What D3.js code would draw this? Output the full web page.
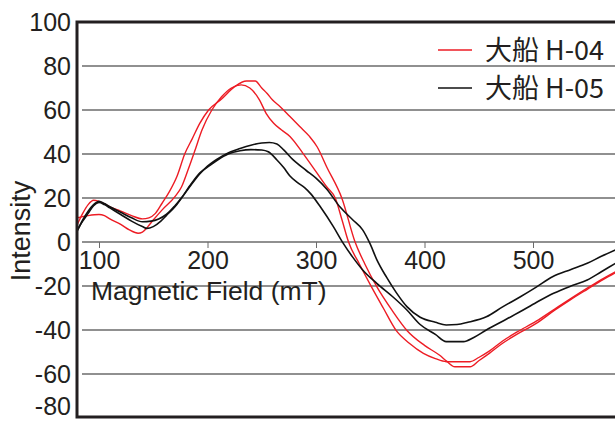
<!DOCTYPE html>
<html>
<head>
<meta charset="utf-8">
<script src="https://cdn.jsdelivr.net/npm/d3@7"></script>
<style>
  html, body { margin: 0; padding: 0; background: #fff; }
  svg { display: block; }
</style>
</head>
<body>
<svg id="chart" width="615" height="422"></svg>
<script>
// Y axis ticks and X axis ticks (mT)
const yTicks = [100, 80, 60, 40, 20, 0, -20, -40, -60, -80];
const xTicks = [100, 200, 300, 400, 500];

// 大船 H-04, first trace: [field (mT), intensity]
const h04TraceA = [
  [80, 8], [85, 13], [90, 17], [95, 19], [100, 18.5], [110, 16], [120, 14], [130, 12],
  [140, 10.5], [146, 11], [152, 13], [158, 17.5], [165, 23], [172, 30], [179, 40],
  [186, 47], [193, 54], [201, 60], [213, 65], [225, 70.6], [236, 73.2], [244, 73.2],
  [250, 70], [255, 67.5], [260, 64.5], [267, 61.5], [276, 57], [285, 52.5], [294, 48],
  [301, 43.3], [310, 34], [324, 19.7], [336, 0], [345, -10], [356, -20.3], [370, -31],
  [384, -40.3], [400, -47], [414, -51.5], [420, -54], [428, -56.7], [442, -56.7],
  [450, -54], [460, -50.5], [472, -46], [485, -42], [503, -37], [520, -31], [534, -26.4],
  [550, -21.5], [565, -17], [576, -14]
];
// 大船 H-04, second trace
const h04TraceB = [
  [80, 11], [90, 12], [100, 12.5], [105, 12], [110, 10.5], [120, 8], [128, 5.5], [136, 4],
  [140, 4.5], [145, 7], [150, 10], [158, 14.5], [170, 20.6], [176, 25], [182, 32.7],
  [188, 41], [195, 51], [204, 60], [213, 66], [222, 70], [231, 71.4], [239, 70],
  [248, 64.5], [254, 58.5], [261, 54], [268, 51], [276, 48], [288, 40.3], [300, 32],
  [310, 25], [318, 19.7], [324, 10], [330, 0], [340, -10], [351, -20.3], [362, -30],
  [374, -40.3], [386, -46], [399, -50.6], [410, -53], [420, -54.4], [442, -54.4],
  [450, -52.5], [460, -49.5], [472, -45], [485, -41], [503, -36], [520, -30.5],
  [534, -26], [550, -21], [565, -16.5], [576, -13.5]
];
// 大船 H-05, first trace
const h05TraceA = [
  [80, 5], [85, 10], [90, 14], [95, 17], [100, 18.5], [105, 17.5], [110, 16], [120, 13.5],
  [130, 11], [140, 9.2], [148, 9.5], [155, 10.5], [162, 12.5], [170, 16.5], [176, 20],
  [185, 26], [193, 31], [200, 34.5], [210, 38], [219, 40.5], [230, 42.5], [240, 44],
  [250, 45], [257, 45.2], [264, 44.5], [270, 42], [279, 37.3], [291, 32.5], [300, 29],
  [310, 24], [322, 16], [334, 10], [343, 5.5], [350, -1], [356, -8], [365, -16],
  [374, -23], [384, -29.5], [396, -34.2], [410, -36.5], [420, -37.7], [430, -37.5],
  [440, -36.5], [457, -34], [472, -29.5], [488, -25], [503, -20.5], [518, -15.8],
  [535, -12.5], [550, -9.7], [563, -6.5], [576, -3.6]
];
// 大船 H-05, second trace
const h05TraceB = [
  [80, 5.5], [85, 9.5], [90, 13], [95, 16.5], [100, 18], [105, 17], [110, 15.5],
  [120, 12.5], [130, 9.5], [140, 7], [144, 6.2], [150, 7], [157, 9.5], [162, 12],
  [170, 16], [176, 20], [185, 26.5], [193, 31.5], [200, 34], [210, 37.5], [219, 40],
  [230, 41.5], [240, 42], [250, 41.8], [256, 41], [264, 37.3], [270, 34], [276, 30],
  [283, 27], [290, 24.5], [295, 22], [304, 16], [316, 7], [325, -0.5], [334, -7],
  [343, -12.7], [356, -18.8], [371, -25], [384, -31], [396, -37.5], [410, -42],
  [420, -45.3], [436, -45.3], [445, -43.5], [457, -40], [472, -36], [488, -31.7],
  [503, -27.5], [519, -23.3], [535, -20], [550, -17.3], [563, -13.5], [576, -9.7]
];

const seriesNames = ["大船 H-04", "大船 H-05"];
const seriesColors = ["#ed1c24", "#111111"];

const svg = d3.select("#chart");
const W = 615, H = 422;
const plot = { left: 77, top: 22, bottom: 418 };

const x = d3.scaleLinear().domain([100, 500]).range([99, 533]);
const y = d3.scaleLinear().domain([-80, 100]).range([plot.bottom, plot.top]);

const axisFont = "'Liberation Sans', Arial, Helvetica, sans-serif";
// Plain hyphen for negative numbers
const numFormat = d => String(d);

// Horizontal grid lines
svg.append("g")
  .selectAll("line")
  .data(yTicks.filter(v => v < 100 && v > -80))
  .join("line")
  .attr("x1", 82).attr("x2", W)
  .attr("y1", d => y(d)).attr("y2", d => y(d))
  .attr("stroke", "#6b6b6b").attr("stroke-width", 1.5);

// X axis drawn along the zero line
const xAxis = d3.axisBottom(x).tickValues(xTicks).tickSize(6).tickPadding(4).tickFormat(numFormat);
const gx = svg.append("g").attr("transform", `translate(0,${y(0)})`).call(xAxis);
gx.select(".domain").remove();
gx.selectAll(".tick line").attr("stroke", "#6b6b6b").attr("stroke-width", 1);
gx.selectAll(".tick text")
  .attr("font-family", axisFont).attr("font-size", 25).attr("fill", "#231f20")
  .attr("dy", "0.71em").attr("y", 9);

// Y axis labels; the lowest one sits just above the window edge
const yAxis = d3.axisLeft(y).tickValues(yTicks).tickSize(0).tickPadding(6).tickFormat(numFormat);
const gy = svg.append("g").attr("transform", `translate(${plot.left},0)`).call(yAxis);
gy.select(".domain").remove();
gy.selectAll(".tick text")
  .attr("font-family", axisFont).attr("font-size", 25).attr("fill", "#231f20")
  .attr("dy", d => d === -80 ? "-0.14em" : "0.32em");

// Axis titles
svg.append("text")
  .attr("x", 91).attr("y", 300)
  .attr("font-family", axisFont).attr("font-size", 26.5).attr("fill", "#231f20")
  .text("Magnetic Field (mT)");

svg.append("text")
  .attr("transform", "translate(30,231) rotate(-90)")
  .attr("text-anchor", "middle")
  .attr("font-family", axisFont).attr("font-size", 27).attr("fill", "#231f20")
  .text("Intensity");

// Curves
const line = d3.line()
  .x(d => x(d[0]))
  .y(d => y(d[1]))
  .curve(d3.curveMonotoneX);

svg.append("defs").append("clipPath").attr("id", "plotClip")
  .append("rect").attr("x", plot.left).attr("y", plot.top).attr("width", W - plot.left).attr("height", plot.bottom - plot.top);

const curves = svg.append("g").attr("clip-path", "url(#plotClip)");
[[h04TraceA, 0], [h04TraceB, 0], [h05TraceA, 1], [h05TraceB, 1]].forEach(([data, s]) => {
  curves.append("path")
    .datum(data)
    .attr("d", line)
    .attr("fill", "none")
    .attr("stroke", seriesColors[s])
    .attr("stroke-width", s === 0 ? 1.4 : 1.6)
    .attr("stroke-linejoin", "round");
});

// Frame: top, left and bottom edges
const frame = svg.append("g").attr("stroke", "#231f20").attr("stroke-width", 3).attr("fill", "none");
frame.append("path")
  .attr("d", `M${W},${plot.top} H${plot.left} V${plot.bottom - 1} H${W}`);

// Legend
const legend = svg.append("g");
seriesNames.forEach((name, i) => {
  const ly = 50 + i * 38;
  legend.append("line")
    .attr("x1", 438).attr("x2", 472).attr("y1", ly).attr("y2", ly)
    .attr("stroke", seriesColors[i]).attr("stroke-width", 1.5);
  legend.append("text")
    .attr("x", 485).attr("y", ly).attr("dy", "0.36em")
    .attr("font-family", "'Noto Sans CJK JP', 'Noto Sans CJK SC', sans-serif")
    .attr("font-size", 27).attr("fill", "#231f20")
    .text(name);
});
</script>
</body>
</html>
